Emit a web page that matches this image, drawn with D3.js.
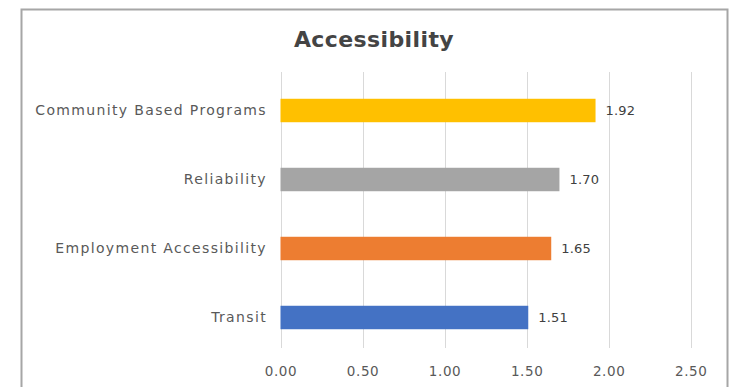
<!DOCTYPE html>
<html>
<head>
<meta charset="utf-8">
<script src="https://cdn.jsdelivr.net/npm/d3@7"></script>
<style>
  html, body { margin: 0; padding: 0; background: #ffffff; }
  svg { display: block; }
</style>
</head>
<body>
<svg id="chart" width="730" height="387"></svg>
<script>
const categories = ["Community Based Programs", "Reliability", "Employment Accessibility", "Transit"];
const values = [1.92, 1.70, 1.65, 1.51];
const barColors = ["#FFC000", "#A5A5A5", "#ED7D31", "#4472C4"];
const tickValues = [0, 0.5, 1.0, 1.5, 2.0, 2.5];
const title = "Accessibility";

const svg = d3.select("#chart");

// frame
svg.append("rect")
  .attr("x", 21.5).attr("y", 9.5)
  .attr("width", 706).attr("height", 420)
  .attr("fill", "#ffffff")
  .attr("stroke", "#a6a6a6").attr("stroke-width", 2);

const x = d3.scaleLinear().domain([0, 2.5]).range([280.5, 690.7]);
const y = d3.scaleBand().domain(categories).range([76, 352]).paddingInner(0.66).paddingOuter(0.33);

const font = "'DejaVu Sans', sans-serif";

// title
svg.append("text")
  .attr("x", 374).attr("y", 47)
  .attr("text-anchor", "middle")
  .attr("font-family", font)
  .attr("font-weight", "bold")
  .attr("font-size", 22)
  .attr("letter-spacing", 0.4)
  .attr("fill", "#444444")
  .text(title);

// gridlines
const gridTop = 72, gridBottom = 348;
svg.append("g").selectAll("line")
  .data(tickValues)
  .join("line")
  .attr("x1", d => Math.round(x(d)) + 0.5)
  .attr("x2", d => Math.round(x(d)) + 0.5)
  .attr("y1", gridTop).attr("y2", gridBottom)
  .attr("stroke", "#d9d9d9").attr("stroke-width", 1);

// x axis labels
const xAxis = d3.axisBottom(x).tickValues(tickValues).tickFormat(d3.format(".2f")).tickSize(0).tickPadding(0);
const gx = svg.append("g").attr("transform", `translate(0, 366)`).call(xAxis);
gx.select(".domain").remove();
gx.selectAll("text")
  .attr("font-family", font)
  .attr("font-size", 13.5)
  .attr("letter-spacing", 0.6)
  .attr("fill", "#595959");

// y axis labels
const yAxis = d3.axisLeft(y).tickSize(0).tickPadding(0);
const gy = svg.append("g").attr("transform", `translate(267, 0)`).call(yAxis);
gy.select(".domain").remove();
gy.selectAll("text")
  .attr("font-family", font)
  .attr("font-size", 14)
  .attr("letter-spacing", 1.35)
  .attr("fill", "#595959");

// bars
svg.append("g").selectAll("rect")
  .data(values)
  .join("rect")
  .attr("x", x(0))
  .attr("y", (d, i) => y(categories[i]))
  .attr("width", d => x(d) - x(0))
  .attr("height", y.bandwidth())
  .attr("fill", (d, i) => barColors[i]);

// value labels
svg.append("g").selectAll("text")
  .data(values)
  .join("text")
  .attr("x", d => x(d) + 10)
  .attr("y", (d, i) => y(categories[i]) + y.bandwidth() / 2)
  .attr("dy", "0.35em")
  .attr("font-family", font)
  .attr("font-size", 13)
  .attr("letter-spacing", 0.2)
  .attr("fill", "#404040")
  .text(d => d3.format(".2f")(d));
</script>
</body>
</html>
